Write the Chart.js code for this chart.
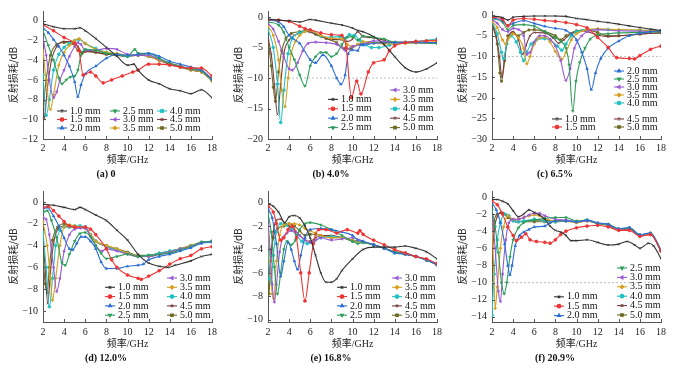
<!DOCTYPE html>
<html lang="zh">

<head>
    <meta charset="UTF-8">
    <title>反射损耗</title>
    <script src="https://cdn.jsdelivr.net/npm/chart.js"></script>
    <style>
        body { margin: 0; background: #fff; }
        .panel { position: absolute; }
    </style>
</head>

<body>
    <div class="panel" style="left:0;top:0"><canvas id="ca" width="226" height="180"></canvas></div>
    <div class="panel" style="left:225px;top:0"><canvas id="cb" width="226" height="180"></canvas></div>
    <div class="panel" style="left:449px;top:0"><canvas id="cc" width="226" height="180"></canvas></div>
    <div class="panel" style="left:0;top:180px"><canvas id="cd" width="226" height="189"></canvas></div>
    <div class="panel" style="left:225px;top:180px"><canvas id="ce" width="226" height="189"></canvas></div>
    <div class="panel" style="left:449px;top:180px"><canvas id="cf" width="226" height="189"></canvas></div>

    <script>
        // 厚度 (图例)
        const thickness = ['1.0 mm', '1.5 mm', '2.0 mm', '2.5 mm', '3.0 mm', '3.5 mm', '4.0 mm', '4.5 mm', '5.0 mm'];
        const xTicks = [2, 4, 6, 8, 10, 12, 14, 16, 18];
        const yTicksA = [-12, -10, -8, -6, -4, -2, 0];
        const yTicksB = [-20, -15, -10, -5, 0];
        const yTicksC = [-30, -25, -20, -15, -10, -5, 0];
        const yTicksD = [-10, -8, -6, -4, -2, 0];
        const yTicksE = [-10, -8, -6, -4, -2, 0];
        const yTicksF = [-14, -12, -10, -8, -6, -4, -2, 0];
        const refLine = [[2, -10], [18, -10]];

        // (a) 0
        const a10 = [[2,-0.3],[3,-0.6],[4,-0.8],[5,-0.8],[5.5,-0.7],[6,-1.0],[7,-1.8],[8,-2.7],[9,-3.6],[10,-4.5],[10.6,-4.4],[11,-5.0],[12,-6.0],[13,-6.4],[14,-6.9],[15,-7.1],[16,-7.4],[17,-7.0],[18,-7.8]];
        const a15 = [[2,-0.4],[3,-1.0],[4,-1.7],[5,-2.3],[5.4,-3.0],[5.8,-5.5],[6.5,-5.2],[7,-5.6],[7.7,-6.3],[8.5,-6.0],[9.5,-5.6],[10.5,-5.2],[11,-5.0],[12,-4.4],[13,-4.4],[14,-4.5],[15,-4.7],[16,-4.8],[17,-4.8],[18,-5.6]];
        const a20 = [[2,-0.7],[2.5,-1.2],[3,-1.9],[3.5,-2.6],[4,-3.5],[4.5,-4.6],[5,-6.2],[5.3,-7.7],[5.6,-6.5],[6,-5.4],[7,-4.6],[8,-3.8],[9,-3.4],[10,-3.5],[11,-3.4],[12,-3.3],[13,-3.6],[14,-4.1],[15,-4.4],[16,-4.7],[17,-5.0],[18,-5.9]];
        const a25 = [[2,-1.0],[2.5,-2.5],[3,-4.0],[3.5,-5.8],[3.8,-6.4],[4.2,-6.0],[4.6,-5.7],[5,-5.6],[5.3,-5.0],[5.6,-3.5],[6,-2.9],[7,-3.0],[8,-3.3],[9,-3.4],[10,-3.6],[10.7,-2.9],[11,-3.3],[12,-3.3],[13,-3.8],[14,-4.3],[15,-4.6],[16,-4.9],[17,-5.1],[18,-6.0]];
        const a30 = [[2,-1.7],[2.3,-3.5],[2.6,-6.0],[3,-7.8],[3.3,-7.2],[3.6,-6.0],[4,-5.0],[4.5,-3.6],[5,-2.6],[5.3,-2.2],[5.6,-2.4],[6,-3.0],[7,-3.0],[8,-2.8],[9,-2.9],[10,-3.4],[11,-3.5],[12,-3.5],[13,-3.9],[14,-4.3],[15,-4.6],[16,-4.9],[17,-5.1],[18,-6.0]];
        const a35 = [[2,-3.0],[2.3,-6.0],[2.7,-9.0],[3,-7.5],[3.5,-4.5],[4,-3.2],[4.5,-2.5],[5,-2.0],[5.4,-1.8],[6,-2.3],[7,-2.9],[8,-3.2],[9,-3.3],[10,-3.5],[11,-3.4],[12,-3.6],[13,-4.0],[14,-4.3],[15,-4.6],[16,-5.0],[17,-5.2],[18,-6.1]];
        const a40 = [[2,-5.5],[2.3,-9.6],[2.6,-8.0],[3,-5.0],[3.5,-3.4],[4,-2.7],[4.5,-2.3],[5,-2.0],[5.4,-1.9],[6,-2.3],[7,-2.8],[8,-3.2],[9,-3.4],[10,-3.6],[11,-3.4],[12,-3.5],[13,-3.9],[14,-4.3],[15,-4.6],[16,-4.9],[17,-5.1],[18,-6.0]];
        const a45 = [[2,-8.0],[2.1,-10.0],[2.4,-7.0],[2.8,-4.0],[3.3,-2.6],[4,-2.1],[4.8,-2.1],[5.3,-2.6],[5.7,-3.2],[6,-3.1],[7,-3.2],[8,-3.4],[9,-3.5],[10,-3.6],[11,-3.5],[12,-3.6],[13,-4.0],[14,-4.4],[15,-4.6],[16,-5.0],[17,-5.2],[18,-6.0]];
        const a50 = [[2,-9.0],[2.3,-6.0],[2.7,-3.5],[3.3,-2.4],[4,-2.2],[4.8,-2.3],[5.3,-3.0],[5.7,-3.3],[6,-3.1],[7,-3.2],[8,-3.4],[9,-3.5],[10,-3.6],[11,-3.5],[12,-3.6],[13,-4.0],[14,-4.4],[15,-4.7],[16,-5.0],[17,-5.2],[18,-6.1]];

        // (b) 4.0%
        const b10 = [[2,-0.3],[3,-0.5],[4,-0.6],[5,-0.8],[6,-0.4],[6.5,-0.5],[8,-1.0],[9,-1.3],[10,-1.8],[10.5,-2.2],[11,-2.4],[12,-3.2],[13,-4.5],[14,-6.5],[15,-8.3],[16,-9.0],[17,-8.5],[18,-7.5]];
        const b15 = [[2,-0.4],[3,-0.5],[4,-0.7],[5,-1.5],[5.5,-1.9],[6,-2.1],[7,-2.6],[8,-2.9],[9,-3.0],[9.4,-5.0],[9.9,-13.2],[10.4,-10.5],[10.8,-12.6],[11.5,-9.0],[12,-7.5],[13,-7.0],[13.5,-5.5],[14,-4.7],[15,-4.2],[16,-4.0],[17,-3.9],[18,-3.8]];
        const b20 = [[2,-0.5],[3,-0.8],[3.5,-1.6],[4,-3.0],[5,-4.3],[6,-7.0],[6.5,-7.5],[7.2,-6.2],[8,-8.0],[8.5,-10.0],[8.9,-11.0],[9.3,-9.5],[9.6,-6.0],[10,-5.4],[10.5,-5.5],[10.8,-4.5],[11,-4.6],[12,-4.3],[14,-4.2],[16,-4.1],[18,-4.2]];
        const b25 = [[2,-0.8],[3,-1.3],[3.5,-2.5],[4,-5.0],[4.5,-7.0],[5,-9.5],[5.5,-11.3],[6,-8.0],[6.5,-6.5],[7,-5.8],[7.5,-5.8],[8,-6.5],[8.5,-6.0],[9,-4.5],[9.5,-3.3],[10,-3.2],[10.5,-3.8],[11,-3.1],[12,-3.3],[13,-3.6],[14,-4.1],[16,-4.2],[18,-4.3]];
        const b30 = [[2,-1.0],[2.5,-2.0],[3,-4.0],[3.5,-6.5],[4,-8.5],[4.3,-8.7],[4.8,-7.5],[5.3,-5.5],[5.8,-4.3],[6.5,-4.1],[7.5,-4.2],[8.5,-4.5],[9,-5.0],[9.3,-5.5],[10,-4.8],[11,-4.5],[12,-3.9],[14,-4.1],[16,-4.2],[18,-4.3]];
        const b35 = [[2,-1.5],[2.5,-3.0],[3,-7.0],[3.3,-12.0],[3.6,-14.7],[3.9,-10.0],[4.2,-6.0],[4.6,-4.0],[5,-3.0],[5.5,-2.4],[6,-2.2],[7,-3.0],[8,-3.5],[9,-3.6],[9.5,-4.5],[10,-4.8],[10.5,-4.5],[11,-4.0],[12,-4.3],[13,-4.4],[14,-4.4],[15,-4.3],[16,-4.2],[17,-4.1],[18,-4.0]];
        const b40 = [[2,-2.0],[2.5,-5.0],[2.9,-11.0],[3.2,-17.3],[3.5,-12.0],[3.9,-6.0],[4.3,-3.5],[5,-2.6],[5.5,-2.3],[6,-2.2],[7,-3.1],[8,-3.3],[8.8,-3.2],[9.3,-3.5],[9.7,-2.9],[10.2,-3.0],[10.7,-3.8],[11.2,-4.5],[11.8,-5.0],[12.5,-5.0],[13.5,-4.6],[15,-4.2],[16,-4.0],[18,-3.6]];
        const b45 = [[2,-3.5],[2.3,-6.0],[2.6,-11.0],[2.9,-16.0],[3.2,-11.0],[3.5,-6.0],[4,-3.8],[4.5,-3.0],[5,-2.6],[5.5,-2.3],[6,-2.5],[7,-3.2],[8,-3.7],[9,-3.7],[9.5,-4.0],[10,-3.6],[10.5,-2.4],[11,-3.2],[12,-3.4],[13,-3.8],[14,-4.2],[16,-4.2],[18,-4.3]];
        const b50 = [[2,-3.8],[2.3,-8.0],[2.5,-11.5],[2.7,-13.8],[3,-9.0],[3.3,-5.5],[3.7,-3.5],[4.2,-2.7],[5,-2.4],[5.8,-2.2],[6.5,-2.8],[7.5,-3.5],[8.5,-4.2],[9.2,-5.2],[9.8,-5.2],[10.5,-4.5],[11.5,-4.2],[13,-4.2],[15,-4.1],[18,-4.2]];

        // (c) 6.5%
        const c10 = [[2,-0.2],[3,-0.6],[3.5,-1.2],[4,-0.5],[5,-0.3],[6,-0.2],[7,-0.2],[8,-0.2],[9,-0.3],[10,-0.8],[11,-1.1],[12,-1.5],[13,-1.8],[14,-2.2],[15,-2.6],[16,-3.0],[17,-3.4],[18,-3.7]];
        const c15 = [[2,-0.5],[3,-1.0],[3.5,-2.6],[4,-1.2],[5,-0.8],[6,-1.0],[7,-1.3],[8,-1.5],[9,-1.8],[10,-2.3],[11,-3.1],[12,-5.4],[13,-7.8],[13.8,-10.3],[15,-10.5],[15.5,-10.6],[16,-9.8],[17,-8.3],[18,-7.5]];
        const c20 = [[2,-0.6],[3,-1.4],[3.5,-2.5],[4,-2.0],[5,-1.3],[6,-2.0],[7,-2.7],[8,-3.2],[9,-3.7],[10,-6.0],[10.5,-9.0],[11,-13.0],[11.4,-18.0],[11.8,-14.0],[12.3,-10.5],[13,-8.0],[14,-6.3],[15,-5.0],[16,-4.4],[17,-4.0],[18,-3.7]];
        const c25 = [[2,-0.8],[3,-1.7],[3.5,-3.5],[4,-2.5],[5,-2.3],[6,-2.7],[7,-4.0],[8,-5.5],[8.5,-6.3],[9,-8.0],[9.3,-12.0],[9.65,-23.2],[9.95,-16.0],[10.3,-11.5],[10.8,-8.0],[11.3,-5.8],[12,-4.8],[13,-4.5],[14,-4.3],[16,-4.2],[18,-4.0]];
        const c30 = [[2,-1.0],[2.5,-2.0],[3,-3.5],[3.5,-4.0],[4,-3.2],[4.5,-3.5],[5,-5.0],[5.3,-9.5],[5.6,-9.0],[6,-6.5],[6.5,-5.0],[7,-5.0],[7.5,-5.8],[8,-7.5],[8.5,-11.0],[9,-15.8],[9.4,-13.0],[9.8,-8.0],[10.5,-5.0],[11,-4.0],[12,-3.5],[14,-3.8],[16,-3.9],[18,-4.0]];
        const c35 = [[2,-1.5],[2.5,-3.0],[3,-6.0],[3.3,-7.0],[3.6,-5.5],[4,-4.5],[4.5,-5.5],[5,-8.0],[5.3,-11.8],[5.6,-10.0],[6,-7.0],[6.5,-5.5],[7,-5.3],[7.5,-6.5],[8,-8.8],[8.6,-10.7],[9,-9.0],[9.5,-6.0],[10,-4.5],[11,-3.5],[12,-3.3],[14,-3.5],[16,-3.6],[18,-3.8]];
        const c40 = [[2,-1.8],[2.5,-4.5],[2.9,-9.0],[3.1,-10.5],[3.4,-7.0],[3.8,-5.0],[4.3,-6.5],[4.7,-9.0],[5,-11.0],[5.3,-9.0],[5.7,-7.0],[6.2,-6.0],[7,-5.7],[7.5,-6.0],[8.2,-7.5],[8.6,-8.5],[9,-7.0],[9.5,-5.0],[10,-4.0],[11,-3.5],[13,-3.5],[16,-3.7],[18,-3.8]];
        const c45 = [[2,-2.0],[2.4,-5.0],[2.7,-10.0],[2.95,-15.0],[3.2,-10.0],[3.6,-5.0],[4,-4.0],[4.5,-6.0],[4.9,-9.5],[5.2,-7.5],[5.6,-5.0],[6,-4.2],[7,-4.3],[7.8,-5.5],[8.3,-6.8],[8.8,-6.0],[9.5,-4.5],[10.5,-3.8],[11,-4.0],[12,-4.8],[13,-5.2],[14,-5.0],[16,-4.6],[18,-4.3]];
        const c50 = [[2,-2.3],[2.5,-7.0],[2.75,-14.0],[2.9,-16.0],[3.2,-11.0],[3.5,-5.0],[4,-4.5],[4.5,-5.0],[5,-4.2],[5.5,-3.6],[6,-3.5],[7,-4.0],[8,-5.0],[8.5,-6.0],[9,-5.0],[10,-3.8],[11,-3.6],[12,-4.2],[13,-5.0],[14,-5.0],[16,-4.6],[18,-4.2]];

        // (d) 12.0%
        const d10 = [[2,-0.2],[3,-0.3],[4,-0.5],[5,-0.7],[5.5,-0.5],[6,-0.7],[7,-1.2],[8,-1.7],[9,-2.6],[10,-3.5],[11,-4.8],[12,-5.6],[13,-5.9],[13.8,-6.0],[14.5,-5.8],[16,-5.4],[17,-5.0],[18,-4.8]];
        const d15 = [[2,-0.5],[2.5,-0.4],[3,-0.8],[3.5,-1.3],[4,-1.8],[4.5,-2.2],[5,-2.3],[6,-2.3],[6.5,-2.5],[7,-3.0],[8,-4.3],[8.5,-5.3],[9,-6.0],[10,-6.7],[11,-7.0],[11.3,-7.1],[12,-6.8],[13,-6.3],[14,-5.7],[15,-5.2],[16,-4.9],[17,-4.3],[18,-4.1]];
        const d20 = [[2,-0.7],[2.4,-0.5],[3,-1.3],[3.5,-2.2],[4,-3.3],[4.5,-4.3],[4.8,-4.4],[5.2,-3.8],[5.6,-3.2],[6,-3.2],[6.5,-3.6],[7,-4.3],[7.5,-5.5],[8,-6.1],[9,-6.1],[10,-5.9],[11,-5.8],[11.5,-5.7],[12,-5.3],[13,-5.0],[14,-4.8],[15,-4.5],[16,-4.2],[17,-3.8],[18,-3.7]];
        const d25 = [[2,-1.0],[2.4,-0.8],[2.8,-1.7],[3.3,-3.3],[3.8,-5.6],[4.1,-5.8],[4.5,-4.8],[5,-3.6],[5.5,-2.9],[6,-2.8],[6.5,-3.2],[7,-4.0],[7.5,-4.7],[8,-5.2],[9,-5.0],[10,-4.8],[11,-5.0],[12,-4.9],[13,-4.8],[14,-4.7],[15,-4.4],[16,-4.1],[17,-3.7],[18,-3.6]];
        const d30 = [[2,-1.4],[2.3,-1.6],[2.6,-3.0],[3,-6.0],[3.3,-8.2],[3.6,-7.0],[4,-4.5],[4.5,-3.0],[5,-2.5],[5.5,-2.4],[6,-2.4],[6.5,-3.2],[7,-4.0],[7.6,-4.5],[8,-4.3],[9,-4.5],[10,-4.8],[11,-5.0],[12,-5.0],[13,-4.8],[14,-4.6],[15,-4.3],[16,-4.1],[17,-3.7],[18,-3.6]];
        const d35 = [[2,-1.8],[2.4,-4.0],[2.7,-7.0],[2.9,-9.0],[3.2,-7.0],[3.6,-4.0],[4,-2.3],[4.5,-2.1],[5,-2.2],[5.5,-2.3],[6,-2.4],[6.5,-3.0],[7,-3.6],[8,-4.0],[9,-4.3],[10,-4.7],[11,-5.0],[12,-5.0],[13,-4.8],[14,-4.6],[15,-4.3],[16,-4.0],[17,-3.7],[18,-3.6]];
        const d40 = [[2,-2.8],[2.3,-6.0],[2.6,-9.6],[2.9,-7.0],[3.2,-4.0],[3.6,-2.6],[4,-2.3],[4.5,-2.3],[5,-2.2],[5.5,-2.2],[6,-2.3],[6.5,-3.0],[7,-3.6],[8,-4.1],[9,-4.4],[10,-4.7],[11,-5.0],[12,-4.9],[13,-4.7],[14,-4.5],[15,-4.3],[16,-4.0],[17,-3.7],[18,-3.6]];
        const d45 = [[2,-3.5],[2.2,-6.0],[2.45,-9.3],[2.7,-6.5],[3,-3.8],[3.4,-2.5],[4,-2.2],[4.5,-2.3],[5,-2.3],[5.5,-2.3],[6,-2.3],[6.5,-3.0],[7,-3.6],[8,-4.1],[9,-4.4],[10,-4.7],[11,-5.0],[12,-5.0],[13,-4.8],[14,-4.6],[15,-4.3],[16,-4.0],[17,-3.7],[18,-3.6]];
        const d50 = [[2,-5.0],[2.2,-7.5],[2.4,-8.3],[2.6,-6.0],[2.9,-3.5],[3.4,-2.3],[4,-2.0],[4.5,-2.2],[5,-2.3],[5.5,-2.3],[6,-2.4],[6.5,-3.0],[7,-3.6],[8,-4.0],[9,-4.3],[10,-4.6],[11,-4.9],[12,-4.9],[13,-4.7],[14,-4.5],[15,-4.3],[16,-4.0],[17,-3.7],[18,-3.6]];

        // (e) 16.8%
        const e10 = [[2,-0.1],[2.5,-0.3],[3,-0.8],[3.6,-1.7],[4,-1.2],[4.5,-1.1],[5,-1.3],[5.5,-2.0],[6,-3.0],[6.5,-4.5],[7,-6.0],[7.5,-6.8],[8,-6.8],[8.5,-6.5],[9,-5.8],[10,-4.8],[11,-4.0],[12,-3.8],[13,-3.8],[14,-3.8],[15,-3.7],[16,-3.9],[17,-4.2],[18,-4.8]];
        const e15 = [[2,-0.3],[2.5,-0.8],[2.8,-1.8],[3.2,-3.2],[3.5,-3.0],[3.9,-2.3],[4.3,-2.0],[4.7,-3.0],[5.1,-6.0],[5.5,-8.4],[5.9,-6.0],[6.3,-3.5],[6.8,-2.3],[7.5,-2.3],[8.5,-2.6],[9.5,-2.3],[10.5,-2.6],[10.7,-2.4],[11,-2.7],[12,-3.2],[13,-3.6],[14,-4.0],[15,-4.3],[16,-4.6],[17,-4.8],[18,-5.2]];
        const e20 = [[2,-0.5],[2.4,-1.3],[2.8,-3.5],[3.2,-6.3],[3.5,-5.0],[3.9,-3.4],[4.2,-4.0],[4.5,-5.0],[4.8,-5.7],[5.1,-4.5],[5.5,-3.0],[6,-2.3],[7,-2.2],[8,-2.3],[9,-2.5],[10,-2.8],[10.5,-3.2],[11,-3.3],[12,-3.6],[13,-3.9],[14,-4.3],[15,-4.4],[16,-4.6],[17,-4.9],[18,-5.3]];
        const e25 = [[2,-0.9],[2.3,-2.5],[2.6,-5.5],[2.9,-7.8],[3.2,-6.0],[3.5,-4.0],[3.8,-3.3],[4.2,-3.6],[4.6,-3.2],[5,-2.3],[5.5,-1.8],[6,-1.7],[7,-1.9],[8,-2.3],[9,-2.8],[10,-3.3],[10.5,-3.5],[11,-3.4],[12,-3.6],[13,-3.9],[14,-4.2],[15,-4.4],[16,-4.6],[17,-4.9],[18,-5.3]];
        const e30 = [[2,-1.5],[2.2,-4.0],[2.4,-7.0],[2.6,-8.5],[2.8,-7.0],[3.1,-4.2],[3.4,-3.0],[3.8,-2.6],[4.2,-2.4],[4.6,-2.5],[5,-2.8],[5.5,-3.2],[6,-3.4],[6.5,-3.2],[7,-3.0],[8,-3.2],[9,-3.1],[10,-3.0],[11,-3.3],[12,-3.6],[13,-3.9],[14,-4.2],[15,-4.4],[16,-4.6],[17,-4.9],[18,-5.3]];
        const e35 = [[2,-2.0],[2.2,-5.0],[2.4,-7.8],[2.55,-8.2],[2.8,-5.0],[3.1,-2.8],[3.5,-1.9],[4,-1.8],[4.5,-1.8],[5,-1.9],[5.5,-2.2],[6,-2.4],[6.5,-2.6],[7,-2.8],[8,-3.0],[9,-3.0],[10,-3.2],[11,-3.4],[12,-3.6],[13,-3.9],[14,-4.2],[15,-4.4],[16,-4.6],[17,-4.9],[18,-5.3]];
        const e40 = [[2,-3.0],[2.15,-6.5],[2.3,-6.8],[2.5,-4.5],[2.8,-2.5],[3.2,-1.8],[3.7,-1.9],[4.2,-2.3],[4.7,-2.8],[5.2,-3.3],[5.7,-3.5],[6.2,-3.4],[7,-3.0],[8,-2.9],[9,-3.0],[10,-3.2],[11,-3.4],[12,-3.6],[13,-3.9],[14,-4.3],[15,-4.4],[16,-4.6],[17,-4.9],[18,-5.3]];
        const e45 = [[2,-4.0],[2.1,-6.0],[2.25,-5.0],[2.5,-2.5],[2.8,-1.5],[3.2,-1.4],[3.6,-1.8],[4,-2.0],[4.5,-2.3],[5,-2.8],[5.5,-3.2],[6,-3.3],[6.5,-3.0],[7,-2.8],[8,-2.8],[9,-3.0],[10,-3.2],[11,-3.4],[12,-3.6],[13,-3.9],[14,-4.2],[15,-4.3],[16,-4.6],[17,-4.9],[18,-5.3]];
        const e50 = [[2,-5.0],[2.1,-7.8],[2.25,-5.0],[2.5,-3.0],[2.9,-2.2],[3.5,-2.0],[4,-1.8],[4.5,-2.0],[5,-2.4],[5.5,-2.8],[6,-2.7],[6.5,-2.7],[7,-2.8],[8,-3.0],[9,-3.0],[10,-3.3],[11,-3.4],[12,-3.6],[13,-3.9],[14,-4.2],[15,-4.4],[16,-4.6],[17,-4.9],[18,-5.3]];

        // (f) 20.9%
        const f10 = [[2,-0.3],[2.5,-0.3],[3,-0.5],[3.5,-0.8],[4,-1.6],[4.5,-2.3],[5,-2.0],[5.5,-1.5],[6,-1.8],[6.5,-2.1],[7,-2.6],[7.5,-3.4],[8,-3.9],[8.5,-4.1],[9,-4.5],[9.5,-5.1],[10,-5.1],[11,-5.0],[12,-5.3],[13,-5.6],[14,-5.5],[14.8,-5.2],[15.5,-5.6],[16,-6.0],[16.8,-5.4],[17.3,-5.7],[18,-7.2]];
        const f15 = [[2,-0.5],[2.5,-0.9],[3,-2.0],[3.5,-3.5],[4,-4.5],[4.3,-5.1],[4.8,-4.7],[5.2,-4.3],[5.6,-5.0],[6.2,-5.2],[7,-5.3],[7.5,-5.4],[8,-5.0],[8.5,-4.4],[9,-4.0],[10,-3.6],[11,-3.4],[12,-3.3],[13,-3.5],[14,-3.9],[15,-3.9],[16,-4.6],[17,-4.4],[18,-6.3]];
        const f20 = [[2,-0.7],[2.4,-1.5],[2.8,-3.0],[3.2,-5.5],[3.5,-8.0],[3.7,-9.1],[3.9,-8.0],[4.2,-5.7],[4.6,-4.5],[5,-4.1],[5.5,-3.8],[6,-3.5],[7,-3.4],[7.5,-3.0],[8,-2.8],[9,-2.8],[10,-2.9],[11,-2.7],[12,-3.0],[13,-3.2],[14,-3.7],[15,-3.6],[16,-4.4],[17,-4.2],[18,-6.2]];
        const f25 = [[2,-1.5],[2.3,-3.5],[2.6,-6.5],[2.9,-10.0],[3.15,-11.3],[3.4,-10.0],[3.7,-7.0],[4,-5.0],[4.5,-3.6],[5,-3.0],[6,-2.7],[7,-2.5],[8,-2.4],[9,-2.4],[10,-2.8],[11,-2.7],[12,-3.1],[13,-3.2],[14,-3.7],[15,-3.6],[16,-4.4],[17,-4.2],[18,-6.2]];
        const f30 = [[2,-2.0],[2.3,-6.0],[2.6,-11.0],[2.8,-12.2],[3,-9.0],[3.3,-5.0],[3.6,-3.0],[4,-2.6],[4.5,-2.6],[5,-2.4],[5.5,-2.1],[6,-1.9],[6.5,-1.9],[7,-2.2],[8,-2.6],[9,-2.7],[10,-2.9],[11,-2.8],[12,-3.1],[13,-3.2],[14,-3.8],[15,-3.6],[16,-4.5],[17,-4.3],[18,-6.3]];
        const f35 = [[2,-3.0],[2.15,-8.0],[2.3,-13.0],[2.5,-10.5],[2.8,-6.0],[3.1,-3.5],[3.5,-2.2],[4,-2.6],[4.5,-2.6],[5,-2.4],[5.5,-2.2],[6,-2.1],[6.5,-2.2],[7,-2.5],[8,-2.8],[9,-2.8],[10,-3.0],[11,-2.8],[12,-3.1],[13,-3.2],[14,-3.8],[15,-3.6],[16,-4.5],[17,-4.3],[18,-6.3]];
        const f40 = [[2,-13.8],[2.2,-9.0],[2.5,-5.0],[2.8,-3.0],[3.2,-2.0],[3.6,-2.2],[4,-2.8],[4.5,-2.9],[5,-2.8],[6,-2.6],[7,-2.8],[8,-2.9],[9,-2.8],[10,-2.9],[11,-2.7],[12,-3.1],[13,-3.2],[14,-3.8],[15,-3.6],[16,-4.5],[17,-4.3],[18,-6.3]];
        const f45 = [[2,-7.5],[2.2,-4.0],[2.5,-2.3],[2.9,-1.8],[3.3,-2.0],[3.8,-2.6],[4.3,-2.9],[5,-2.8],[6,-2.7],[7,-2.7],[8,-2.8],[9,-2.7],[10,-2.9],[11,-2.7],[12,-3.1],[13,-3.3],[14,-3.8],[15,-3.7],[16,-4.5],[17,-4.3],[18,-6.3]];
        const f50 = [[2,-4.5],[2.2,-2.8],[2.5,-2.0],[3,-1.9],[3.5,-2.4],[4,-2.7],[4.5,-2.9],[5,-2.9],[6,-2.9],[7,-2.9],[8,-2.9],[9,-2.8],[10,-3.0],[11,-2.8],[12,-3.1],[13,-3.3],[14,-3.8],[15,-3.7],[16,-4.5],[17,-4.3],[18,-6.3]];

        const colors = ['#333333', '#ee3434', '#2b6fd6', '#2f9e5c', '#9a5bd3', '#d6a020', '#22c2c4', '#7a3c3c', '#6e6a22'];
        const marks = ['crossRot', 'circle', 'triangle', 'triangle', 'triangle', 'rectRot', 'circle', 'crossRot', 'rect'];
        const turns = [0, 0, 0, 180, 270, 0, 0, 0, 0];

        const serif = '"Liberation Serif", "DejaVu Serif", serif';

        // 图例画在坐标区内部, 按列排列
        const panelLegend = {
            id: 'panelLegend',
            afterDatasetsDraw(chart, args, opts) {
                const ctx = chart.ctx;
                ctx.save();
                ctx.font = '10px ' + serif;
                ctx.textBaseline = 'middle';
                opts.columns.forEach(col => {
                    col.items.forEach((idx, r) => {
                        if (idx === null) return;
                        const ds = chart.data.datasets[idx];
                        const y = col.y + r * opts.gap;
                        ctx.strokeStyle = ds.borderColor;
                        ctx.lineWidth = 1.1;
                        ctx.beginPath();
                        ctx.moveTo(col.x, y);
                        ctx.lineTo(col.x + 10, y);
                        ctx.stroke();
                        ctx.fillStyle = ds.borderColor;
                        Chart.helpers.drawPoint(ctx, {
                            pointStyle: ds.pointStyle, radius: 1.8, rotation: ds.rotation, borderWidth: 1
                        }, col.x + 5, y);
                        ctx.fillStyle = '#111';
                        ctx.fillText(ds.label, col.x + 13, y);
                    });
                });
                ctx.restore();
            }
        };

        // 坐标轴内侧的小刻度
        const innerTicks = {
            id: 'innerTicks',
            afterDraw(chart) {
                const { ctx, chartArea: a, scales } = chart;
                ctx.save();
                ctx.strokeStyle = '#555';
                ctx.lineWidth = 1;
                ctx.beginPath();
                scales.x.ticks.forEach(t => {
                    const x = Math.round(scales.x.getPixelForValue(t.value)) + 0.5;
                    ctx.moveTo(x, a.bottom);
                    ctx.lineTo(x, a.bottom - 3);
                });
                scales.y.ticks.forEach(t => {
                    const y = Math.round(scales.y.getPixelForValue(t.value)) + 0.5;
                    ctx.moveTo(a.left, y);
                    ctx.lineTo(a.left + 3, y);
                });
                ctx.stroke();
                ctx.restore();
            }
        };

        function buildSets(series, withRef) {
            const sets = series.map((pts, i) => ({
                label: thickness[i],
                data: pts,
                borderColor: colors[i],
                backgroundColor: colors[i],
                borderWidth: 1.1,
                pointRadius: 1.4,
                pointBorderWidth: 0.8,
                pointStyle: marks[i],
                rotation: turns[i],
                cubicInterpolationMode: 'monotone'
            }));
            if (withRef) {
                sets.push({
                    label: 'ref', data: refLine, borderColor: '#bdbdbd', borderWidth: 1,
                    borderDash: [2, 2], pointRadius: 0, order: 10
                });
            }
            return sets;
        }

        function makePanel(id, p) {
            const top = p.row === 0;
            new Chart(document.getElementById(id), {
                type: 'line',
                data: { datasets: buildSets(p.series, p.ref) },
                plugins: [panelLegend, innerTicks],
                options: {
                    responsive: false,
                    animation: false,
                    layout: { padding: { left: 0, right: 14, top: top ? 5 : 10, bottom: 0 } },
                    scales: {
                        x: {
                            type: 'linear', min: 2, max: 18,
                            afterBuildTicks: s => { s.ticks = xTicks.map(v => ({ value: v })); },
                            afterFit: s => { s.height = top ? 29 : 30; },
                            grid: { display: false, drawTicks: false },
                            border: { color: '#555' },
                            ticks: { padding: top ? 3 : 4, color: '#222', font: { family: serif, size: 10 }, maxRotation: 0 },
                            title: {
                                display: true, text: '频率/GHz', color: '#222',
                                font: { family: serif + ', "Noto Sans CJK SC"', size: 10 },
                                padding: { top: 0, bottom: 2 }
                            }
                        },
                        y: {
                            min: p.min, max: p.max,
                            afterBuildTicks: s => { s.ticks = p.ticks.map(v => ({ value: v })); },
                            afterFit: s => { s.width = 43; },
                            grid: { display: false, drawTicks: false },
                            border: { color: '#555' },
                            ticks: {
                                padding: 5, color: '#222', font: { family: serif, size: 10 },
                                callback: v => String(v).replace('-', '\u2212')
                            },
                            title: {
                                display: true, text: '反射损耗/dB', color: '#222',
                                font: { family: '"Noto Sans CJK SC", ' + serif, size: 10 },
                                padding: { top: 7, bottom: 0 }
                            }
                        }
                    },
                    plugins: {
                        legend: { display: false },
                        tooltip: { enabled: false },
                        title: {
                            display: true, position: 'bottom', text: p.caption, color: '#111',
                            font: { family: serif, size: 10, weight: 'bold' },
                            padding: { top: 0, bottom: top ? 0 : 5 }
                        },
                        panelLegend: { columns: p.legend, gap: p.gap }
                    }
                }
            });
        }

        makePanel('ca', {
            row: 0, series: [a10, a15, a20, a25, a30, a35, a40, a45, a50], min: -12, max: 1, ticks: yTicksA,
            caption: '(a) 0', gap: 8.5,
            legend: [{ x: 57, y: 111, items: [0, 1, 2] }, { x: 110, y: 111, items: [3, 4, 5] }, { x: 157, y: 111, items: [6, 7, 8] }]
        });
        makePanel('cb', {
            row: 0, series: [b10, b15, b20, b25, b30, b35, b40, b45, b50], min: -20, max: 1, ticks: yTicksB, ref: true,
            caption: '(b) 4.0%', gap: 9.4,
            legend: [{ x: 103, y: 99.4, items: [0, 1, 2, 3] }, { x: 165, y: 90, items: [4, 5, 6, 7, 8] }]
        });
        makePanel('cc', {
            row: 0, series: [c10, c15, c20, c25, c30, c35, c40, c45, c50], min: -30, max: 1, ticks: yTicksC, ref: true,
            caption: '(c) 6.5%', gap: 8,
            legend: [{ x: 103, y: 119, items: [0, 1] }, { x: 165, y: 71, items: [2, 3, 4, 5, 6, null, 7, 8] }]
        });
        makePanel('cd', {
            row: 1, series: [d10, d15, d20, d25, d30, d35, d40, d45, d50], min: -11, max: 1, ticks: yTicksD,
            caption: '(d) 12.0%', gap: 9.3,
            legend: [{ x: 105, y: 107.3, items: [0, 1, 2, 3] }, { x: 167, y: 98, items: [4, 5, 6, 7, 8] }]
        });
        makePanel('ce', {
            row: 1, series: [e10, e15, e20, e25, e30, e35, e40, e45, e50], min: -10.2, max: 1, ticks: yTicksE,
            caption: '(e) 16.8%', gap: 9.3,
            legend: [{ x: 112, y: 107.3, items: [0, 1, 2, 3] }, { x: 167, y: 98, items: [4, 5, 6, 7, 8] }]
        });
        makePanel('cf', {
            row: 1, series: [f10, f15, f20, f25, f30, f35, f40, f45, f50], min: -14.6, max: 0.7, ticks: yTicksF, ref: true,
            caption: '(f) 20.9%', gap: 9.4,
            legend: [{ x: 105, y: 116.8, items: [0, 1, 2] }, { x: 168, y: 88, items: [3, 4, 5, 6, 7, 8] }]
        });
    </script>
</body>

</html>
